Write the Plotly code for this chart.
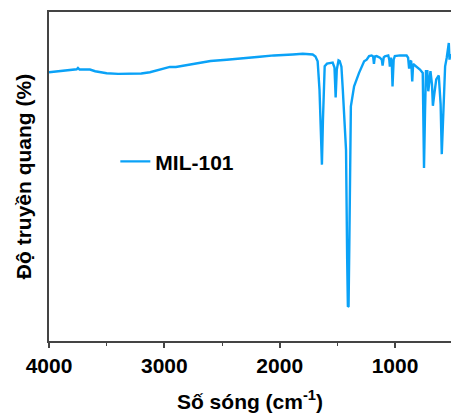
import plotly.graph_objects as go

# FT-IR spectrum of MIL-101: wavenumber (cm-1) and transmittance (%)
wavenumber = [
    4000, 3900, 3800, 3760, 3749, 3735, 3700, 3645, 3600, 3500, 3400, 3300,
    3200, 3125, 3050, 2952, 2900, 2840, 2760, 2693, 2600, 2460, 2350, 2260,
    2173, 2050, 1950, 1887, 1800, 1750, 1714, 1690, 1671, 1655, 1640, 1634,
    1625, 1610, 1590, 1567, 1541, 1525, 1515, 1505, 1490, 1480, 1465, 1453,
    1437, 1425, 1415, 1409, 1403, 1397, 1390, 1383, 1355, 1312, 1268, 1246,
    1225, 1203, 1190, 1183, 1175, 1160, 1131, 1115, 1108, 1098, 1088, 1059,
    1050, 1045, 1035, 1028, 1022, 1012, 1002, 957, 900, 887, 878, 870,
    860, 851, 843, 818, 784, 760, 749, 740, 732, 720, 712, 705,
    693, 680, 672, 660, 643, 621, 605, 595, 585, 580, 566, 552,
    543, 534, 528, 522, 515,
]
transmittance = [
    81.7, 82.0, 82.5, 82.6, 83.0, 82.5, 82.5, 82.5, 82.0, 81.4, 81.2, 81.2,
    81.3, 81.7, 82.3, 83.3, 83.3, 83.7, 84.2, 84.7, 85.1, 85.5, 85.8, 86.0,
    86.4, 86.8, 86.9, 87.1, 87.3, 87.3, 87.1, 86.5, 85.0, 76.4, 58.1, 53.6,
    67.3, 83.5, 84.3, 84.5, 84.6, 83.1, 74.0, 82.5, 85.3, 85.1, 83.4, 76.4,
    66.5, 58.1, 24.7, 10.4, 10.6, 27.7, 58.0, 71.3, 77.4, 81.5, 85.0, 85.5,
    86.6, 86.8, 86.5, 84.2, 86.5, 86.6, 86.1, 85.5, 83.7, 86.2, 86.5, 86.8,
    85.5, 83.4, 86.1, 84.2, 77.4, 85.5, 86.6, 86.8, 86.8, 86.1, 82.8, 84.9,
    85.2, 78.9, 84.2, 83.5, 82.5, 81.5, 52.6, 70.0, 82.0, 82.0, 75.9, 78.0,
    82.0, 78.0, 71.5, 75.0, 79.5, 80.7, 72.0, 56.8, 68.0, 74.4, 83.5, 86.1,
    88.6, 90.6, 85.5, 87.1, 86.5,
]

series_name = "MIL-101"
x_tick_values = [4000, 3000, 2000, 1000]
x_tick_text = ["4000", "3000", "2000", "1000"]

FONT = "Arial, 'Liberation Sans', sans-serif"
AXIS_COLOR = "#444444"
LINE_COLOR = "#0AA2F7"

fig = go.Figure()
fig.add_trace(go.Scatter(
    x=wavenumber,
    y=transmittance,
    mode="lines",
    name=series_name,
    line=dict(color=LINE_COLOR, width=2.4),
))

fig.update_layout(
    width=451,
    height=414,
    margin=dict(l=49, r=0, t=12, b=73),
    paper_bgcolor="white",
    plot_bgcolor="white",
    font=dict(family=FONT, color="black"),
    showlegend=True,
    legend=dict(
        x=0.165, y=0.545, xanchor="left", yanchor="middle",
        bgcolor="rgba(0,0,0,0)",
        font=dict(size=21, family=FONT, weight="bold", color="black"),
        itemwidth=30,
    ),
    xaxis=dict(
        range=[4000, 515],
        tickmode="array",
        tickvals=x_tick_values,
        ticktext=x_tick_text,
        ticks="outside",
        ticklen=5,
        tickwidth=1.5,
        tickcolor=AXIS_COLOR,
        minor=dict(ticks="outside", ticklen=3, tickwidth=1.2,
                   tickcolor=AXIS_COLOR, dtick=500, tick0=500),
        showline=True,
        linecolor=AXIS_COLOR,
        linewidth=1.8,
        mirror=True,
        showgrid=False,
        zeroline=False,
        tickfont=dict(size=21, family=FONT, weight="bold", color="black"),
        title=dict(
            text="Số sóng (cm<sup>-1</sup>)",
            font=dict(size=21, family=FONT, weight="bold", color="black"),
            standoff=18,
        ),
    ),
    yaxis=dict(
        range=[0, 100],
        showticklabels=False,
        ticks="",
        showline=True,
        linecolor=AXIS_COLOR,
        linewidth=1.8,
        showgrid=False,
        zeroline=False,
        title=dict(
            text="Độ truyền quang (%)",
            font=dict(size=21, family=FONT, weight="bold", color="black"),
            standoff=10,
        ),
    ),
)

fig.write_html("out.html")
